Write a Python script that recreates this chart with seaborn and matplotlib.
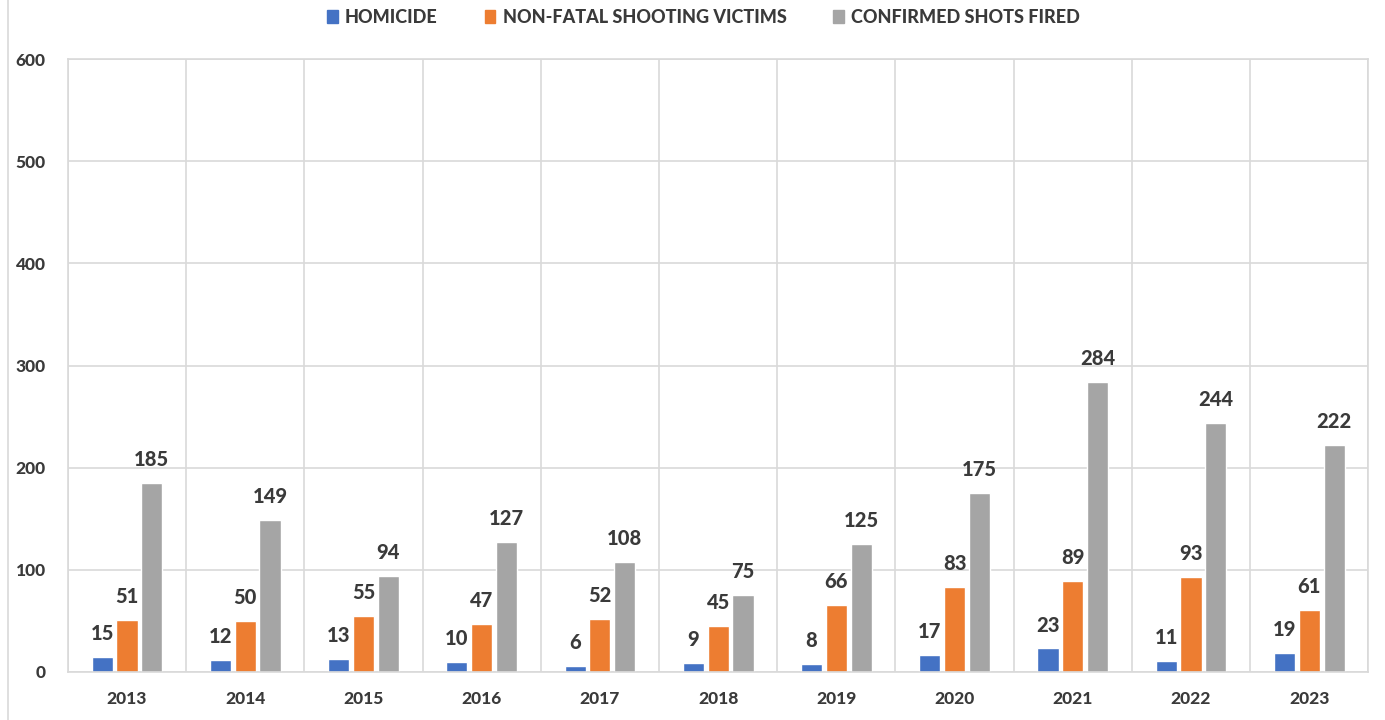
import pandas as pd
import matplotlib.pyplot as plt
import seaborn as sns
from matplotlib.lines import Line2D

# valores
anos = ['2013', '2014', '2015', '2016', '2017', '2018', '2019', '2020', '2021', '2022', '2023']
homicide = [15, 12, 13, 10, 6, 9, 8, 17, 23, 11, 19]
non_fatal = [51, 50, 55, 47, 52, 45, 66, 83, 89, 93, 61]
shots_fired = [185, 149, 94, 127, 108, 75, 125, 175, 284, 244, 222]

series = ['HOMICIDE', 'NON-FATAL SHOOTING VICTIMS', 'CONFIRMED SHOTS FIRED']
cores = ['#4472C4', '#ED7D31', '#A5A5A5']

df = pd.DataFrame({'Ano': anos, series[0]: homicide, series[1]: non_fatal, series[2]: shots_fired})
df_long = df.melt(id_vars='Ano', var_name='Serie', value_name='Valor')

sns.set_style('white')
plt.rcParams['font.family'] = ['Lato', 'DejaVu Sans']
peso = 900
texto = '#3A3A3A'
grade = '#D9D9D9'

fig, ax = plt.subplots(figsize=(13.85, 7.2), dpi=100)
fig.subplots_adjust(left=0.049, right=0.988, top=0.918, bottom=0.0667)

sns.barplot(data=df_long, x='Ano', y='Valor', hue='Serie', hue_order=series,
            palette=cores, width=0.63, gap=0.15, saturation=1, ax=ax)

for cont in ax.containers:
    ax.bar_label(cont, padding=10, fontsize=14.5, fontweight=peso, color=texto)

ax.set_ylim(0, 600)
ax.set_yticks(range(0, 601, 100))
ax.set_xlim(-0.5, len(anos) - 0.5)
ax.set_xticks([i + 0.5 for i in range(-1, len(anos))], minor=True)
ax.grid(True, axis='y', color=grade, linewidth=1.2)
ax.grid(True, axis='x', which='minor', color=grade, linewidth=1.2)
ax.set_axisbelow(True)
for s in ax.spines.values():
    s.set_color(grade)
    s.set_linewidth(1.2)

ax.set_xlabel('')
ax.set_ylabel('')
ax.tick_params(axis='both', which='both', length=0, labelsize=12.5, labelcolor=texto)
ax.tick_params(axis='y', pad=16)
ax.tick_params(axis='x', pad=14)
for lbl in ax.get_xticklabels() + ax.get_yticklabels():
    lbl.set_fontweight(peso)

ax.get_legend().remove()
handles = [plt.Rectangle((0, 0), 1, 1, color=c) for c in cores]
fig.legend(handles, series, loc='center', bbox_to_anchor=(0.508, 0.976), ncol=3,
           frameon=False, handlelength=0.6, handleheight=0.7, handletextpad=0.4,
           columnspacing=2.6, prop={'size': 13, 'weight': peso}, labelcolor=texto)

fig.add_artist(Line2D([8 / 1385, 8 / 1385], [0, 1], color=grade, linewidth=1.2))

fig.savefig('out.png', dpi=100)
plt.close()
